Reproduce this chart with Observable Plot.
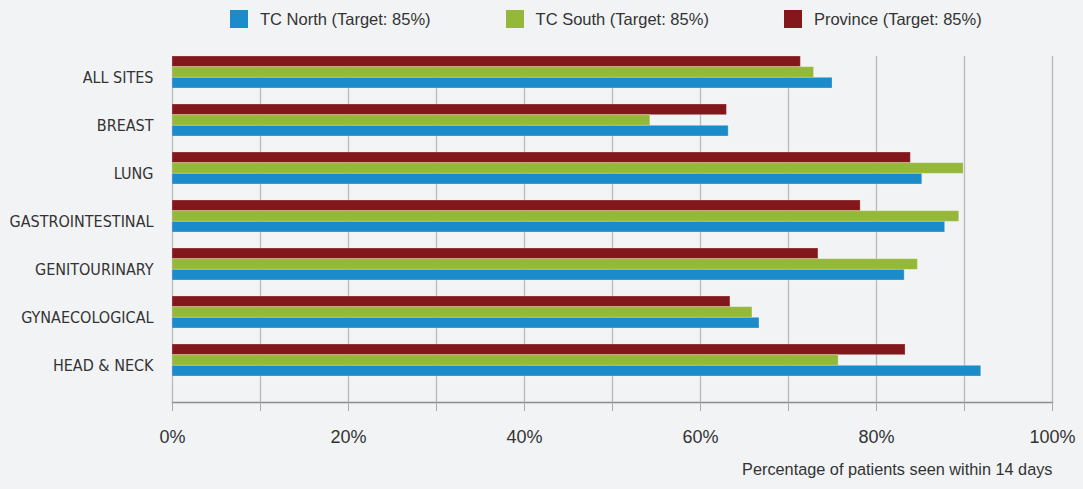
<!DOCTYPE html>
<html>
<head>
<meta charset="utf-8">
<script src="https://cdn.jsdelivr.net/npm/d3@7"></script>
<script src="https://cdn.jsdelivr.net/npm/@observablehq/plot@0.6"></script>
<style>
  html, body { margin: 0; padding: 0; background: #f2f3f5; }
  body { width: 1083px; height: 489px; overflow: hidden; font-family: "Liberation Sans", Arial, sans-serif; color: #333; }
  #legend { height: 36px; display: flex; align-items: center; padding-left: 230px; gap: 75px; box-sizing: border-box; padding-top: 2px; }
  .item { display: flex; align-items: center; gap: 12px; font-size: 16.5px; color: #333; }
  .sw { width: 18px; height: 18px; display: inline-block; }
  #chart svg { display: block; }
</style>
</head>
<body>
<div id="legend"></div>
<div id="chart"></div>
<script>
const sites = ["ALL SITES", "BREAST", "LUNG", "GASTROINTESTINAL", "GENITOURINARY", "GYNAECOLOGICAL", "HEAD & NECK"];
const seriesNames = ["TC North (Target: 85%)", "TC South (Target: 85%)", "Province (Target: 85%)"];
const seriesColors = ["#1c8bca", "#95b83a", "#83181c"];
const tcNorth = [75.0, 63.2, 85.2, 87.8, 83.2, 66.7, 91.9];
const tcSouth = [72.9, 54.3, 89.9, 89.4, 84.7, 65.9, 75.7];
const province = [71.4, 63.0, 83.9, 78.2, 73.4, 63.4, 83.3];
const xTicks = [0, 10, 20, 30, 40, 50, 60, 70, 80, 90, 100];
const xTitle = "Percentage of patients seen within 14 days";

// legend
const legend = document.getElementById("legend");
seriesNames.forEach((name, i) => {
  const it = document.createElement("div");
  it.className = "item";
  it.innerHTML = `<span class="sw" style="background:${seriesColors[i]}"></span><span>${name}</span>`;
  legend.appendChild(it);
});

const rows = (vals, s) => sites.map((site, i) => ({site, series: s, value: vals[i]}));
const northRows = rows(tcNorth, seriesNames[0]);
const southRows = rows(tcSouth, seriesNames[1]);
const provRows = rows(province, seriesNames[2]);

const band = 48, barH = 32 / 3;
const barOpts = (color, k) => ({
  x: "value", y: "site", fill: color,
  stroke: "white", strokeOpacity: 0.25, strokeWidth: 1,
  insetTop: k * barH, insetBottom: band - (k + 1) * barH
});

const chart = Plot.plot({
  width: 1083,
  height: 453,
  marginLeft: 172,
  marginRight: 31,
  marginTop: 20,
  marginBottom: 87,
  style: { background: "#f2f3f5", color: "#333", fontFamily: "Liberation Sans, Arial, sans-serif" },
  x: { domain: [0, 100] },
  y: { domain: sites, range: [20, 356], padding: 0 },
  marks: [
    Plot.gridX(xTicks, { stroke: "#b9b9bd", strokeOpacity: 1, strokeWidth: 1.3 }),
    Plot.barX(provRows, barOpts(seriesColors[2], 0)),
    Plot.barX(southRows, barOpts(seriesColors[1], 1)),
    Plot.barX(northRows, barOpts(seriesColors[0], 2)),
    Plot.frame({ anchor: "bottom", stroke: "#8c8c8f", strokeWidth: 1.5 }),
    Plot.axisX({ ticks: xTicks, tickSize: 9, tickPadding: 19, tickFormat: d => d % 20 === 0 ? `${d}%` : "", fontSize: 18, label: null, stroke: "#aaaaad", fill: "#333" }),
    Plot.axisY({ tickSize: 0, tickPadding: 19, dy: -3, fontSize: 16, label: null, fill: "#333", fontFamily: "Liberation Sans Narrow, DejaVu Sans Condensed, sans-serif" }),
    Plot.text([xTitle], { frameAnchor: "bottom-right", dy: 72, textAnchor: "end", fontSize: 16.3, fill: "#333" })
  ]
});
document.getElementById("chart").appendChild(chart);
</script>
</body>
</html>
